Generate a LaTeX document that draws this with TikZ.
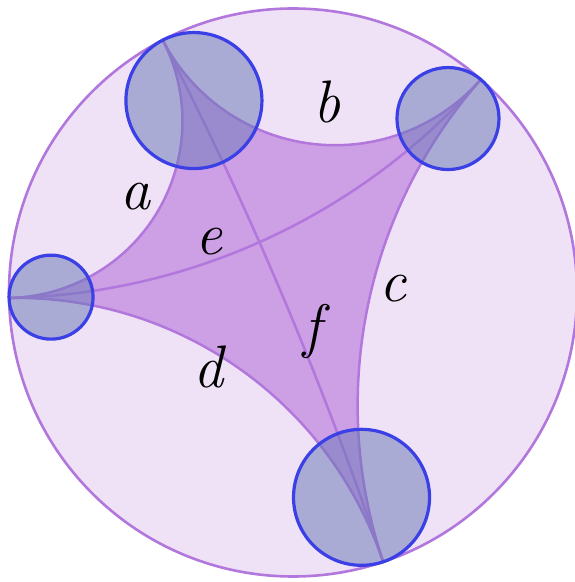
\documentclass[tikz,border=0pt]{standalone}
\usepackage{xcolor}
\usepackage{tikz}
\definecolor{disk}{HTML}{EFE2F7}
\definecolor{quad}{HTML}{CDA0E5}
\definecolor{geo}{HTML}{B277DC}
\definecolor{horo}{HTML}{6B79B7}
\definecolor{horoedge}{HTML}{3A40E6}
\definecolor{ink}{HTML}{000000}
\tikzset{
  diskline/.style = {draw=geo, fill=disk, line width=2.6pt},
  region/.style   = {fill=quad},
  geod/.style     = {draw=geo, line width=2.5pt},
  horoball/.style = {draw=horoedge, fill=horo, fill opacity=0.52, line width=3.2pt},
  lab/.style      = {font=\fontsize{60}{60}\selectfont\itshape\color{ink}, anchor=base, inner sep=0pt, outer sep=0pt},
}

\begin{document}
\begin{tikzpicture}[x=1pt,y=1pt]
\path[use as bounding box, fill=white] (0,0) rectangle (575,582);

\begin{scope}[shift={(293,289.5)}]
% ---- disk and ideal points ---------------------------------------------
\draw[diskline] (0,0) circle[radius=284];
\coordinate (A) at (117.3:284);
\coordinate (B) at (48.6:284);
\coordinate (C) at (-71.5:284);
\coordinate (D) at (181.1:284);

% ---- ideal quadrilateral -----------------------------------------------
\fill[region] (A) arc[start angle=27.3,  end angle=-88.9,  radius={284*tan(31.9)}]
                  arc[start angle=91.1,  end angle=18.5,   radius={284*tan(53.7)}]
                  arc[start angle=198.5, end angle=138.6,  radius={284*tan(60.05)}]
                  arc[start angle=-41.4, end angle=-152.7, radius={284*tan(34.35)}] -- cycle;

% sides a, d, c, b
\draw[geod] (A) arc[start angle=27.3,  end angle=-88.9,  radius={284*tan(31.9)}];
\draw[geod] (D) arc[start angle=91.1,  end angle=18.5,   radius={284*tan(53.7)}];
\draw[geod] (C) arc[start angle=198.5, end angle=138.6,  radius={284*tan(60.05)}];
\draw[geod] (B) arc[start angle=-41.4, end angle=-152.7, radius={284*tan(34.35)}];
% diagonals e, f
\draw[geod] (B) arc[start angle=-41.4, end angle=-88.9,  radius={284*tan(66.25)}];
\draw[geod] (A) arc[start angle=27.3,  end angle=18.5,   radius={284*tan(85.6)}];

% ---- horocycles --------------------------------------------------------
\draw[horoball] (117.3:216) circle[radius=68];
\draw[horoball] (48.3:233)  circle[radius=51];
\draw[horoball] (181.1:242) circle[radius=42];
\draw[horoball] (-71.5:216) circle[radius=68];
\end{scope}

% ---- labels ------------------------------------------------------------
\node[lab] (la) at (135,372) {a};
\node[lab] (lb) at (327,459) {b};
\node[lab] (lc) at (393,280) {c};
\node[lab] (ld) at (208,194) {d};
\node[lab] (le) at (209,327) {e};
\node[lab] (lf) at (312,235) {f};

\end{tikzpicture}
\end{document}
